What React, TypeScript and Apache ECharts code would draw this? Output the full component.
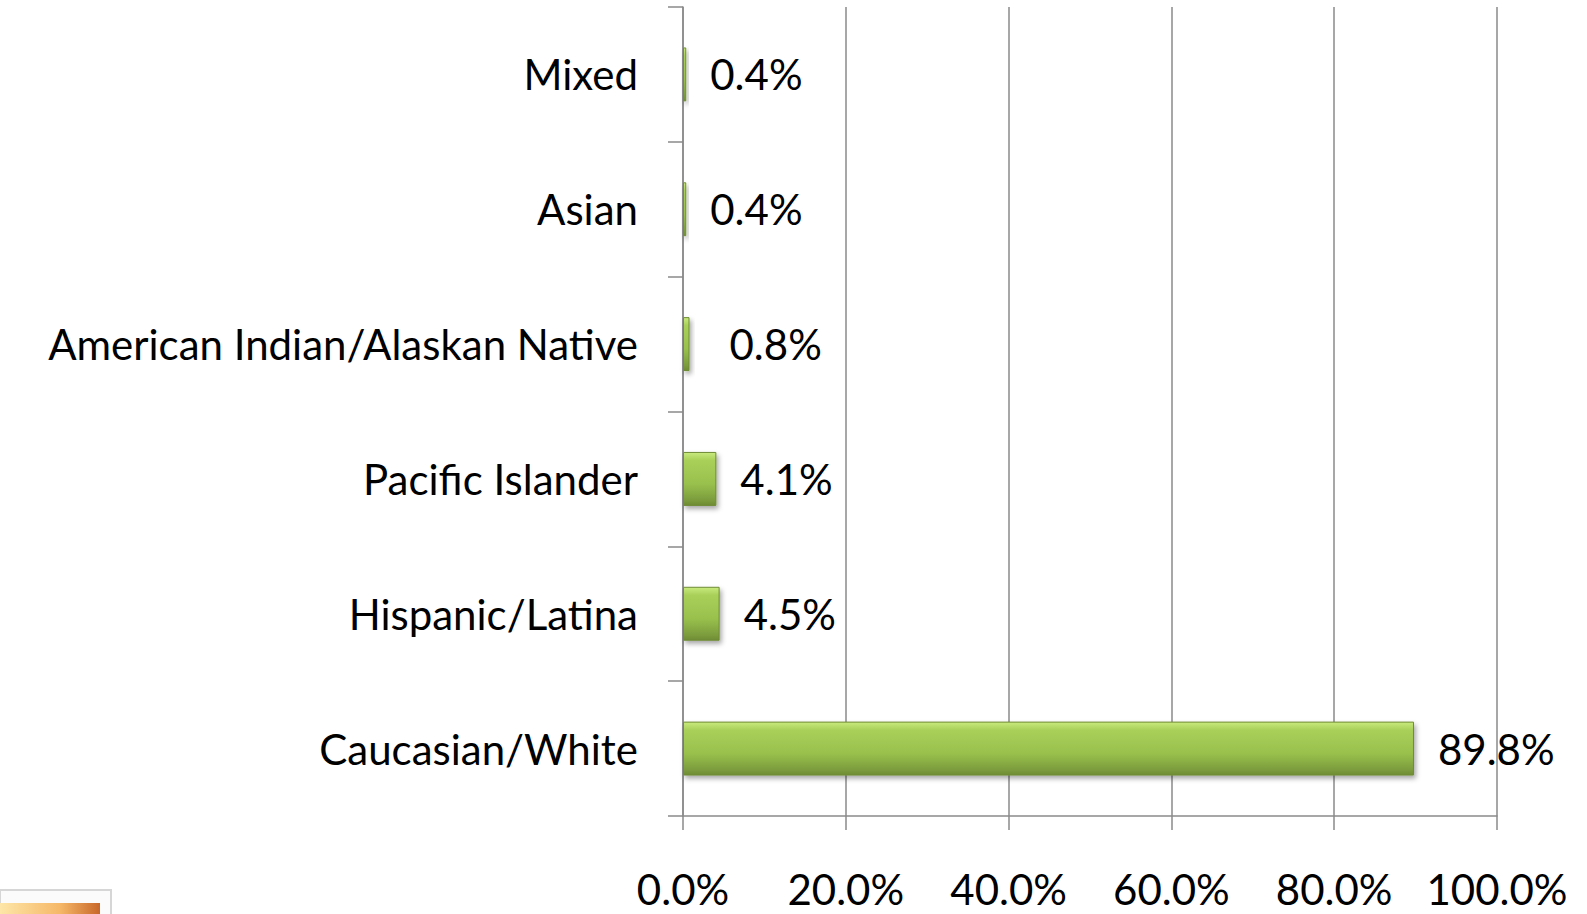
import React, { useEffect, useRef } from "react";
import * as echarts from "echarts";

const categories = [
  "Caucasian/White",
  "Hispanic/Latina",
  "Pacific Islander",
  "American Indian/Alaskan Native",
  "Asian",
  "Mixed",
];
const values = [89.8, 4.5, 4.1, 0.8, 0.4, 0.4];
const xTicks = { min: 0, max: 100, interval: 20 };

const FONT = "Lato, 'Open Sans', sans-serif";
const FS = 42;

export default function App() {
  const ref = useRef<HTMLDivElement>(null);
  useEffect(() => {
    if (!ref.current) return;
    const chart = echarts.init(ref.current, null, { renderer: "svg" });
    chart.setOption({
      animation: false,
      backgroundColor: "#ffffff",
      grid: { left: 683, right: 90, top: 7, bottom: 98, containLabel: false },
      xAxis: {
        type: "value",
        min: xTicks.min,
        max: xTicks.max,
        interval: xTicks.interval,
        axisLine: { show: true, lineStyle: { color: "#8a8a8a", width: 1.5 } },
        axisTick: { show: true, length: 14, lineStyle: { color: "#8a8a8a", width: 1.5 } },
        splitLine: { show: true, lineStyle: { color: "#8a8a8a", width: 1.5 } },
        axisLabel: {
          formatter: (v: number) => v.toFixed(1) + "%",
          color: "#000",
          fontFamily: FONT,
          fontSize: FS,
          margin: 52,
        },
      },
      yAxis: {
        type: "category",
        data: categories,
        axisLine: { show: true, lineStyle: { color: "#8a8a8a", width: 1.5 } },
        axisTick: { show: true, length: 15, alignWithLabel: false, lineStyle: { color: "#8a8a8a", width: 1.5 } },
        splitLine: { show: false },
        axisLabel: {
          color: "#000",
          fontFamily: FONT,
          fontSize: FS,
          margin: 45,
        },
      },
      series: [
        {
          type: "bar",
          data: values.map((v, i) =>
            i === 3 ? { value: v, label: { distance: 40 } } : v
          ),
          barCategoryGap: "60%",
          itemStyle: {
            color: new echarts.graphic.LinearGradient(0, 0, 0, 1, [
              { offset: 0, color: "#c9ea7e" },
              { offset: 0.15, color: "#a9d059" },
              { offset: 0.6, color: "#98c04c" },
              { offset: 0.9, color: "#7c9c3d" },
              { offset: 1, color: "#6e8c34" },
            ]),
            borderColor: "#6f8c35",
            borderWidth: 1,
            shadowBlur: 5,
            shadowOffsetX: 2,
            shadowOffsetY: 3,
            shadowColor: "rgba(0,0,0,0.35)",
          },
          label: {
            show: true,
            position: "right",
            distance: 24,
            formatter: (p: any) => Number(p.value).toFixed(1) + "%",
            color: "#000",
            fontFamily: FONT,
            fontSize: FS,
          },
        },
      ],
      graphic: [
        {
          type: "rect",
          shape: { x: 0, y: 890, width: 111, height: 30 },
          style: { fill: "#fbfbfb", stroke: "#d6d6d6", lineWidth: 2 },
        },
        {
          type: "rect",
          shape: { x: 0, y: 903, width: 100, height: 15 },
          style: {
            fill: new echarts.graphic.LinearGradient(0, 0, 1, 0, [
              { offset: 0, color: "#fde6a8" },
              { offset: 0.6, color: "#f6b868" },
              { offset: 1, color: "#c8672a" },
            ]),
          },
        },
      ],
    });
    return () => chart.dispose();
  }, []);
  return (
    <div
      ref={ref}
      style={{ position: "absolute", left: 0, top: 0, width: 1587, height: 914 }}
    />
  );
}
